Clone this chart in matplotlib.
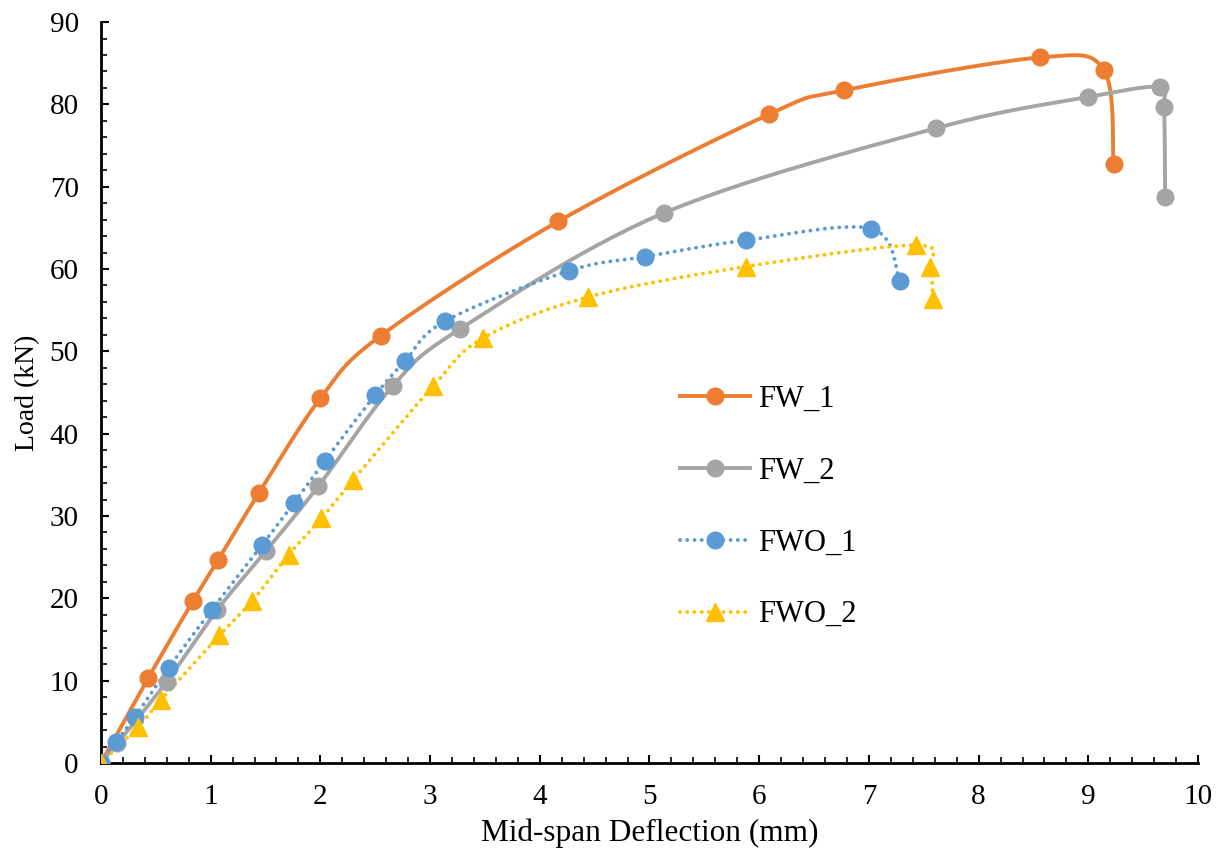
import matplotlib
matplotlib.use("Agg")
import matplotlib.pyplot as plt
import numpy as np

plt.rcParams["font.family"] = ["Liberation Serif", "DejaVu Serif"]

# load-deflection readings (mm, kN)
fw1_x = [0.0, 0.43, 0.84, 1.07, 1.44, 2.00, 2.55, 4.17, 6.09, 6.77, 8.56, 9.14, 9.23]
fw1_y = [0.0, 10.3, 19.7, 24.7, 32.8, 44.3, 51.9, 65.8, 78.8, 81.7, 85.7, 84.2, 72.8]

fw2_x = [0.0, 0.15, 0.60, 1.06, 1.50, 1.98, 2.66, 3.27, 5.13, 7.61, 9.00, 9.65, 9.69, 9.70]
fw2_y = [0.0, 2.4, 9.9, 18.6, 25.7, 33.6, 45.8, 52.7, 66.8, 77.1, 80.9, 82.1, 79.7, 68.8]

fwo1_x = [0.0, 0.14, 0.31, 0.62, 1.01, 1.47, 1.76, 2.04, 2.50, 2.77, 3.14, 4.27, 4.96, 5.88, 7.02, 7.28]
fwo1_y = [0.0, 2.6, 5.6, 11.6, 18.6, 26.5, 31.6, 36.7, 44.7, 48.8, 53.7, 59.8, 61.5, 63.5, 64.9, 58.6]

fwo2_x = [0.0, 0.34, 0.55, 1.08, 1.38, 1.71, 2.01, 2.30, 3.03, 3.48, 4.44, 5.88, 7.43, 7.56, 7.58]
fwo2_y = [0.0, 4.4, 7.7, 15.5, 19.7, 25.3, 29.7, 34.4, 45.8, 51.6, 56.6, 60.3, 62.9, 60.2, 56.3]


def smooth(x, y, n=30):
    """Excel-style smoothed line (uniform Catmull-Rom through the points)."""
    p = np.column_stack([x, y]).astype(float)
    p = np.vstack([p[0], p, p[-1]])
    t = np.linspace(0, 1, n)[:, None]
    out = []
    for i in range(1, len(p) - 2):
        p0, p1, p2, p3 = p[i - 1], p[i], p[i + 1], p[i + 2]
        c1 = p1 + (p2 - p0) / 6
        c2 = p2 - (p3 - p1) / 6
        seg = ((1 - t) ** 3) * p1 + 3 * ((1 - t) ** 2) * t * c1 + 3 * (1 - t) * t ** 2 * c2 + t ** 3 * p2
        out.append(seg if i == 1 else seg[1:])
    out = np.vstack(out)
    return out[:, 0], out[:, 1]


dots = (0, (0.01, 1.85))
series = [
    ("FW_1", fw1_x, fw1_y, "#ED7D31", "-", "o"),
    ("FW_2", fw2_x, fw2_y, "#A5A5A5", "-", "o"),
    ("FWO_1", fwo1_x, fwo1_y, "#5B9BD5", dots, "o"),
    ("FWO_2", fwo2_x, fwo2_y, "#FFC000", dots, "^"),
]

fig = plt.figure(figsize=(12.25, 8.61), dpi=100)
ax = fig.add_axes([0.0824, 0.1138, 0.8956, 0.8606])

handles = []
for name, x, y, col, ls, mk in series:
    ms = 12 if mk == "o" else 13
    sx, sy = smooth(x, y)
    ax.plot(sx, sy, color=col, lw=2.8, ls=ls, dash_capstyle="round", solid_capstyle="round", zorder=2)
    ax.plot(x, y, ls="none", marker=mk, ms=ms, color=col, zorder=3)
    h, = ax.plot([], [], color=col, lw=2.8, ls=ls, dash_capstyle="round", marker=mk, ms=ms)
    handles.append((h, name))

ax.set_xlim(0, 10)
ax.set_ylim(0, 90)
ax.set_xticks(np.arange(0, 11, 1))
ax.set_yticks(np.arange(0, 91, 10))
ax.set_xticks(np.arange(0, 10.01, 0.2), minor=True)
ax.set_yticks(np.arange(0, 90.1, 2), minor=True)
ax.tick_params(which="major", direction="in", length=6, width=1.5, labelsize=21, color="black")
ax.tick_params(which="minor", direction="in", length=4, width=1.2, color="black")
ax.tick_params(axis="x", which="major", pad=15)
ax.tick_params(axis="y", which="major", pad=16)
for s in ("top", "right"):
    ax.spines[s].set_visible(False)
for s in ("left", "bottom"):
    ax.spines[s].set_linewidth(2)
    ax.spines[s].set_color("black")

ax.set_xlabel("Mid-span Deflection (mm)", fontsize=22.5, labelpad=6)
ax.set_ylabel("Load (kN)", fontsize=20, labelpad=7)

ax.legend([h for h, _ in handles], [n for _, n in handles], loc="center left",
          bbox_to_anchor=(0.555, 0.411), bbox_transform=fig.transFigure,
          frameon=False, fontsize=22, handlelength=2.3, handletextpad=0.25,
          labelspacing=1.4, borderpad=0, borderaxespad=0)

fig.savefig("out.png", dpi=100)
